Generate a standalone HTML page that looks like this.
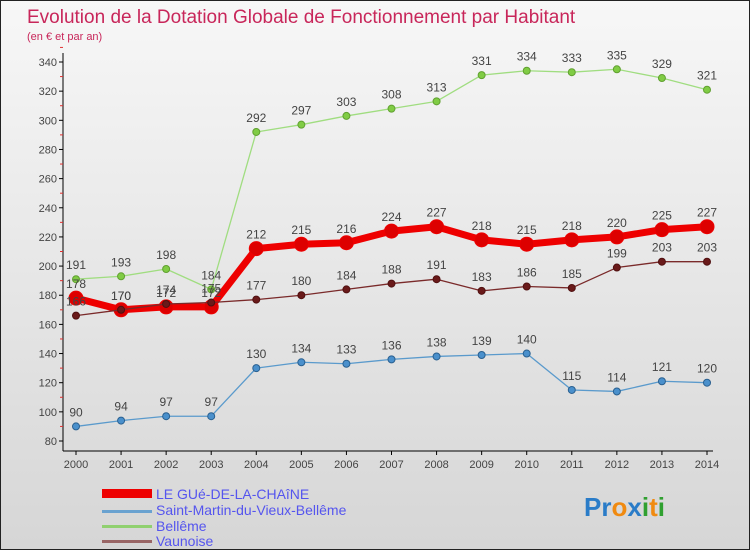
<!DOCTYPE html>
<html><head><meta charset="utf-8"><style>
body{margin:0;}
#c{width:750px;height:550px;position:relative;background:linear-gradient(#f7f7f7,#d6d6d6);font-family:"Liberation Sans",sans-serif;box-sizing:border-box;border:1px solid #222;overflow:hidden}
svg{position:absolute;left:0;top:0}
</style></head><body>
<div id="c">
<svg id="s" width="750" height="550">
<text x="26" y="22" font-size="19" fill="#c8265a">Evolution de la Dotation Globale de Fonctionnement par Habitant</text>
<text x="26" y="39" font-size="11" fill="#c8265a">(en € et par an)</text>
<g id="legend">
<rect x="101" y="488" width="50" height="9" fill="#ee0000"/>
<text x="155" y="498" font-size="14" fill="#5555ee">LE GUé-DE-LA-CHAîNE</text>
<rect x="101" y="509" width="50" height="3" fill="#6aa2d0"/>
<text x="155" y="514" font-size="14" fill="#5555ee">Saint-Martin-du-Vieux-Bellême</text>
<rect x="101" y="524" width="50" height="3" fill="#90d070"/>
<text x="155" y="530" font-size="14" fill="#5555ee">Bellême</text>
<rect x="101" y="539" width="50" height="3" fill="#996666"/>
<text x="155" y="545" font-size="14" fill="#5555ee">Vaunoise</text>
</g>
<text x="583" y="515" font-size="26" font-weight="bold"><tspan fill="#2a7cc8">Pr</tspan><tspan fill="#f08a10">o</tspan><tspan fill="#2a7cc8">x</tspan><tspan fill="#30a030">i</tspan><tspan fill="#f08a10">t</tspan><tspan fill="#30a030">i</tspan></text>
</svg>
</div>
<script>
const years=[2000,2001,2002,2003,2004,2005,2006,2007,2008,2009,2010,2011,2012,2013,2014];
const yTicks=[80,100,120,140,160,180,200,220,240,260,280,300,320,340];
const gue=[178,170,172,172,212,215,216,224,227,218,215,218,220,225,227];
const stMartin=[90,94,97,97,130,134,133,136,138,139,140,115,114,121,120];
const belleme=[191,193,198,184,292,297,303,308,313,331,334,333,335,329,321];
const vaunoise=[166,170,174,175,177,180,184,188,191,183,186,185,199,203,203];
const NS="http://www.w3.org/2000/svg";
const s=document.getElementById('s');
const x=i=>75+i*(706-75)/(years.length-1);
const y=v=>440-(v-80)*(440-61)/260;
function el(t,a,p){const e=document.createElementNS(NS,t);for(const k in a)e.setAttribute(k,a[k]);(p||s).appendChild(e);return e;}
const ax=el('g',{});


let l=el('line',{x1:62,y1:52,x2:62,y2:450,stroke:'#000','stroke-width':1},ax);


l=el('line',{x1:62,y1:450,x2:712,y2:450,stroke:'#000','stroke-width':1},ax);


yTicks.forEach(v=>{
 el('line',{x1:58,y1:y(v),x2:62,y2:y(v),stroke:'#000'},ax);
 el('line',{x1:59,y1:y(v+10),x2:62,y2:y(v+10),stroke:'#e03030'},ax);
 const t=el('text',{x:56,y:y(v)+4,'font-size':11,fill:'#444','text-anchor':'end'},ax);
 t.textContent=v;
 
 
});
years.forEach((yr,i)=>{
 el('line',{x1:x(i),y1:450,x2:x(i),y2:454,stroke:'#000'},ax);
 const t=el('text',{x:x(i),y:467,'font-size':11,fill:'#444','text-anchor':'middle'},ax);
 t.textContent=yr;
 
 
});
function series(vals,name,col,dot,lw,r,stroke){
 const g=el('g',{});
 
 
 const p=el('polyline',{points:vals.map((v,i)=>x(i)+','+y(v)).join(' '),fill:'none',stroke:col,'stroke-width':lw,'stroke-linejoin':'round'},g);
 
 
 vals.forEach((v,i)=>{
  const c=el('circle',{cx:x(i),cy:y(v),r:r,fill:dot,stroke:stroke,'stroke-width':1},g);
  
  
  const t=el('text',{x:x(i),y:y(v)-10,'font-size':12,fill:'#444','text-anchor':'middle'},g);
  t.textContent=v;
  
  
 });
}
series(belleme,'belleme','#a0dd80','#80cc44',1.3,3.5,'#60a030');
series(stMartin,'saint-martin','#5a9acc','#4a90cc',1.3,3.5,'#2a6090');
series(gue,'gue','#ee0000','#dd0000',7,7,'#ee0000');
series(vaunoise,'vaunoise','#7a2a2a','#6a1a1a',1.3,3.5,'#501010');
</script>
</body></html>
